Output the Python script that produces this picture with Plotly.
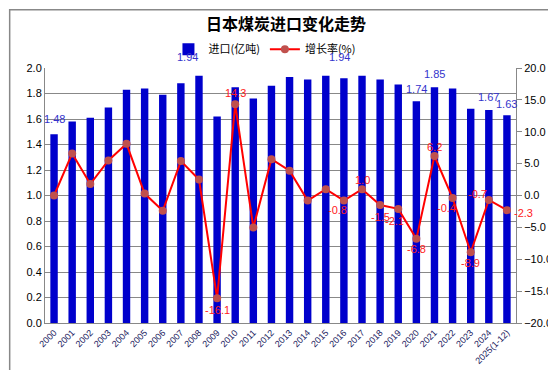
import plotly.graph_objects as go

years = ["2000", "2001", "2002", "2003", "2004", "2005", "2006", "2007", "2008", "2009",
         "2010", "2011", "2012", "2013", "2014", "2015", "2016", "2017", "2018", "2019",
         "2020", "2021", "2022", "2023", "2024", "2025(1-12)"]
imports = [1.48, 1.58, 1.61, 1.69, 1.83, 1.84, 1.79, 1.88, 1.94, 1.62,
           1.85, 1.76, 1.86, 1.93, 1.91, 1.94, 1.92, 1.94, 1.91, 1.87,
           1.74, 1.85, 1.84, 1.68, 1.67, 1.63]
growth = [0.0, 6.6, 1.8, 5.5, 8.1, 0.3, -2.4, 5.4, 2.5, -16.1,
          14.3, -5.0, 5.7, 3.9, -0.8, 1.0, -0.8, 1.0, -1.5, -2.1,
          -6.8, 6.2, -0.4, -8.9, -0.7, -2.3]

# which points carry value labels (index -> (xshift, yshift))
bar_label_idx = {0: (0, 15), 8: (-11, 19), 15: (14, 19), 20: (0, 12), 21: (0, 13), 24: (0, 13), 25: (0, 11)}
growth_label_idx = {9: (0, -12), 10: (0, 11), 16: (-6, -9), 17: (0, 9), 18: (0, -12), 19: (-4, -12),
                    20: (0, -10), 21: (0, 9), 22: (-6, -10), 23: (0, -11), 24: (-11, 6), 25: (17, -3)}

fig = go.Figure()
fig.add_trace(go.Bar(x=years, y=imports, name="进口(亿吨)", marker=dict(color="#0000CC", line=dict(width=0)),
                     yaxis="y"))
fig.add_trace(go.Scatter(x=years, y=growth, name="增长率(%)", mode="lines+markers", yaxis="y2",
                         line=dict(color="#FF0000", width=2),
                         marker=dict(color="#C0504D", size=8, line=dict(width=0))))

annotations = []
for i, (xs, ys) in bar_label_idx.items():
    annotations.append(dict(x=i, y=imports[i], xref="x", yref="y", text=f"{imports[i]:.2f}",
                            showarrow=False, xshift=xs, yshift=ys,
                            font=dict(color="#3333CC", size=11, family="Liberation Sans")))
for i, (xs, ys) in growth_label_idx.items():
    annotations.append(dict(x=i, y=growth[i], xref="x", yref="y2", text=f"{growth[i]:.1f}",
                            showarrow=False, xshift=xs, yshift=ys,
                            font=dict(color="#FF2020", size=11, family="Liberation Sans")))

fig.update_layout(
    width=556, height=370,
    margin=dict(l=37, r=39, t=60, b=52),
    paper_bgcolor="white", plot_bgcolor="white",
    title=dict(text="<b>日本煤炭进口变化走势</b>", x=0.5, xanchor="center", y=0.955, yanchor="middle",
               font=dict(size=16, color="black", family="Noto Sans CJK SC")),
    font=dict(family="Noto Sans CJK SC", size=11, color="black"),
    bargap=0.59,
    showlegend=True,
    legend=dict(orientation="h", x=0.467, xanchor="center", y=1.074, yanchor="middle",
                font=dict(size=11, family="Noto Sans CJK SC"), bgcolor="rgba(0,0,0,0)",
                itemwidth=30, tracegroupgap=0),
    xaxis=dict(type="category", range=[-0.5, len(years) - 0.5], tickangle=-45,
               tickfont=dict(size=9, family="Liberation Sans", color="#1a1a60"),
               showline=True, linecolor="#888888", linewidth=1, showgrid=False, ticks=""),
    yaxis=dict(range=[0, 2.0], dtick=0.2, tickformat=".1f", showgrid=True, gridcolor="#888888", gridwidth=1,
               showline=True, linecolor="#888888", linewidth=1, ticks="", zeroline=False,
               tickfont=dict(size=11, family="Liberation Sans", color="black")),
    yaxis2=dict(range=[-20, 20], dtick=5, tickformat=".1f", overlaying="y", side="right", showgrid=False,
                showline=True, linecolor="#888888", linewidth=1, ticks="outside", ticklen=5, tickcolor="#888888",
                zeroline=False, tickfont=dict(size=11, family="Liberation Sans", color="black")),
    annotations=annotations,
    shapes=[dict(type="rect", xref="paper", yref="paper", x0=-0.075, x1=1.079, y0=-0.1977, y1=1.2287,
                 line=dict(color="#888888", width=1.5), fillcolor="rgba(0,0,0,0)", layer="below")],
)

fig.write_html("out.html")
